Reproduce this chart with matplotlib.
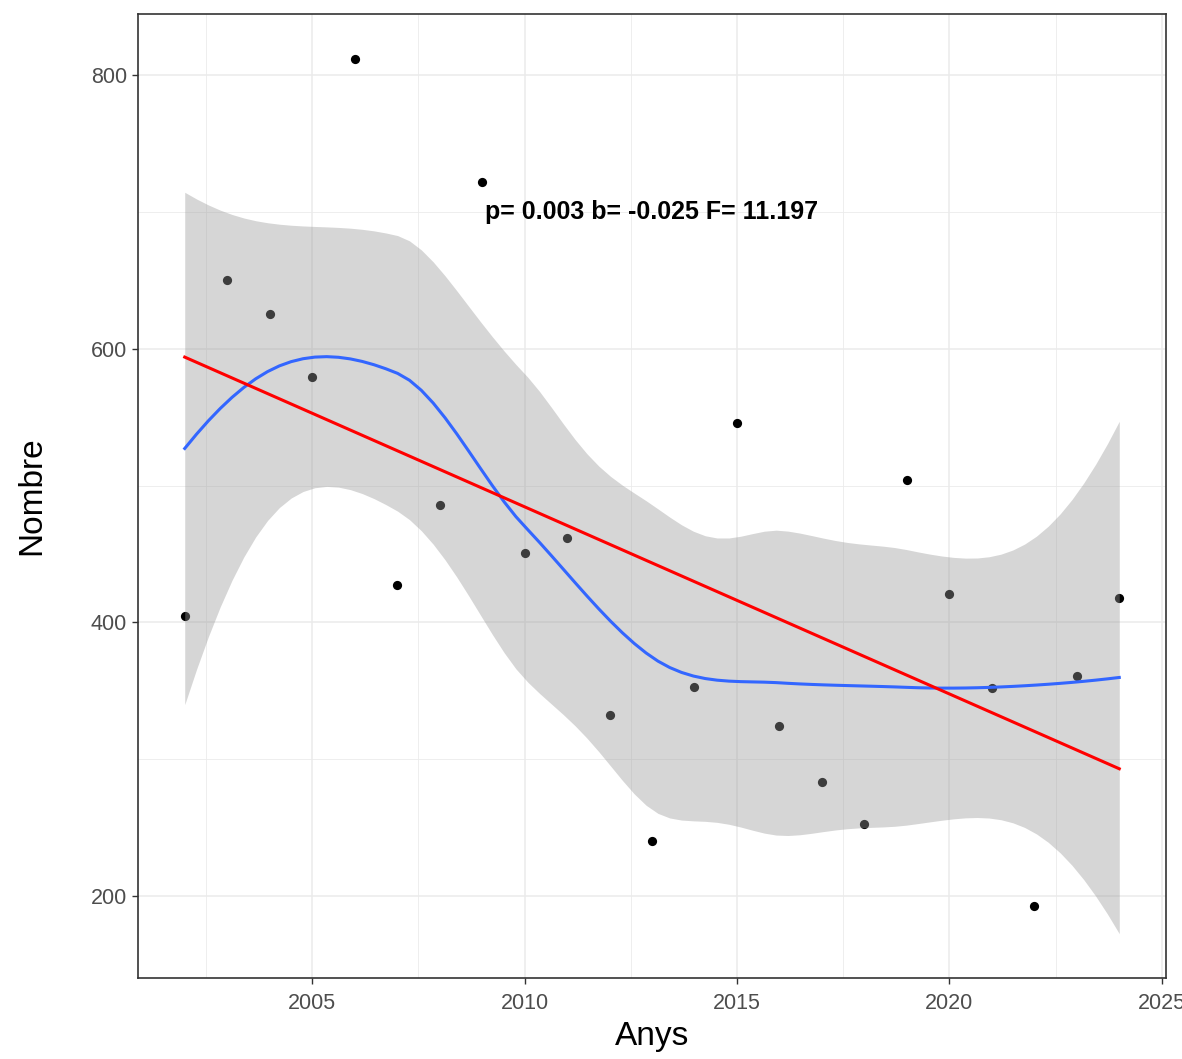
import math
import numpy as np
import matplotlib
matplotlib.use("Agg")
import matplotlib.pyplot as plt
from matplotlib.ticker import MultipleLocator

# ---------------- data ----------------
years = [2002, 2003, 2004, 2005, 2006, 2007, 2008, 2009, 2010, 2011, 2012,
         2013, 2014, 2015, 2016, 2017, 2018, 2019, 2020, 2021, 2022, 2023, 2024]
counts = [405, 650, 625, 579, 812, 427, 486, 722, 451, 462, 332,
          240, 353, 546, 324, 283, 253, 504, 421, 352, 193, 361, 418]
x_ticks = [2005, 2010, 2015, 2020, 2025]
y_ticks = [200, 400, 600, 800]
annotation = "p= 0.003 b= -0.025 F= 11.197"

x = np.array(years, dtype=float)
y = np.array(counts, dtype=float)
n = len(x)

# ---------------- loess (span 0.75, degree 2, kd-tree interpolation) ----------------
SPAN = 0.75
CELL = 0.2


def local_rows(x0):
    q = int(math.floor(n * SPAN + 1e-5))
    d = np.abs(x - x0)
    h = np.sort(d)[q - 1]
    u = d / h
    w = np.where(u < 1, (1 - np.clip(u, 0, 1) ** 3) ** 3, 0.0)
    X = np.column_stack([np.ones(n), x - x0, (x - x0) ** 2])
    W = np.diag(w)
    B = np.linalg.pinv(X.T @ W @ X) @ X.T @ W
    return B[0], B[1]


def build_vertices():
    xs = np.sort(x)
    fc = int(math.floor(n * SPAN * CELL))
    mu = 0.005 * (xs[-1] - xs[0])
    lo, hi = xs[0] - mu, xs[-1] + mu
    verts = {lo, hi}

    def split(l, u, vlo, vhi):
        if (u - l + 1) <= fc:
            return
        m = (l + u) // 2
        xi = xs[m]
        if xi == vlo or xi == vhi:
            return
        verts.add(xi)
        split(l, m, vlo, xi)
        split(m + 1, u, xi, vhi)

    split(0, n - 1, lo, hi)
    return np.array(sorted(verts))


verts = build_vertices()
vrows = [local_rows(v) for v in verts]


def interp_row(t):
    k = int(np.clip(np.searchsorted(verts, t, side='right') - 1, 0, len(verts) - 2))
    v0, v1 = verts[k], verts[k + 1]
    dv = v1 - v0
    hh = (t - v0) / dv
    phi0 = (1 - hh) ** 2 * (1 + 2 * hh)
    phi1 = hh ** 2 * (3 - 2 * hh)
    psi0 = hh * (1 - hh) ** 2
    psi1 = -hh ** 2 * (1 - hh)
    (a0, s0), (a1, s1) = vrows[k], vrows[k + 1]
    return phi0 * a0 + phi1 * a1 + (psi0 * s0 + psi1 * s1) * dv


def t_quantile(p, df):
    c = math.exp(math.lgamma((df + 1) / 2) - math.lgamma(df / 2)) / math.sqrt(df * math.pi)
    grid = np.linspace(0, 10, 200001)
    pdf = c * (1 + grid ** 2 / df) ** (-(df + 1) / 2)
    cdf = 0.5 + np.concatenate([[0], np.cumsum((pdf[1:] + pdf[:-1]) / 2 * np.diff(grid))])
    return float(np.interp(p, cdf, grid))


L = np.array([interp_row(xi) for xi in x])
res = y - L @ y
M = (np.eye(n) - L).T @ (np.eye(n) - L)
delta1 = np.trace(M)
delta2 = np.trace(M @ M)
sigma = math.sqrt(np.sum(res ** 2) / delta1)
tq = t_quantile(0.975, delta1 ** 2 / delta2)

xs = np.linspace(x.min(), x.max(), 80)
rows = np.array([interp_row(xv) for xv in xs])
fit = rows @ y
se = sigma * np.sqrt(np.sum(rows ** 2, axis=1))
lo = fit - tq * se
hi = fit + tq * se

# linear fit
slope, intercept = np.polyfit(x, y, 1)
lin = intercept + slope * xs

# ---------------- plot ----------------
plt.rcParams['font.family'] = ['Liberation Sans', 'DejaVu Sans']
fig = plt.figure(figsize=(11.82, 10.59), dpi=100)
ax = fig.add_axes([138 / 1182, 1 - 978 / 1059, (1166 - 138) / 1182, (978 - 14) / 1059])

ax.scatter(x, y, s=44, color='black', zorder=3, linewidths=0)
ax.fill_between(xs, lo, hi, color='#999999', alpha=0.4, linewidth=0, zorder=4)
ax.plot(xs, fit, color='#3366FF', lw=2.2, zorder=5)
ax.plot(xs, lin, color='#FF0000', lw=2.2, zorder=6)

ax.text(2013, 700, annotation, ha='center', va='center', fontsize=18,
        fontweight='bold', color='black', zorder=7)

ax.set_xlim(2000.9, 2025.1)
ax.set_ylim(140.1, 844.6)
ax.set_xticks(x_ticks)
ax.set_yticks(y_ticks)
ax.xaxis.set_minor_locator(MultipleLocator(2.5))
ax.yaxis.set_minor_locator(MultipleLocator(100))
ax.grid(True, which='major', color='#EBEBEB', lw=1.1, zorder=0)
ax.grid(True, which='minor', color='#EBEBEB', lw=0.6, zorder=0)
ax.set_axisbelow(True)
ax.tick_params(which='major', length=4.5, width=1.0, color='#333333',
               labelsize=15.5, labelcolor='#4D4D4D')
ax.tick_params(axis='x', which='major', pad=6)
ax.tick_params(axis='y', which='major', pad=3.5)
ax.tick_params(which='minor', length=0)
for s in ax.spines.values():
    s.set_color('#333333')
    s.set_linewidth(1.2)

ax.set_xlabel('Anys', fontsize=24)
ax.set_ylabel('Nombre', fontsize=24)
ax.xaxis.set_label_coords(0.5, (978 - 1021) / 964)
ax.yaxis.set_label_coords((47 - 138) / 1028, 0.5)

fig.savefig('out.png', dpi=100)
